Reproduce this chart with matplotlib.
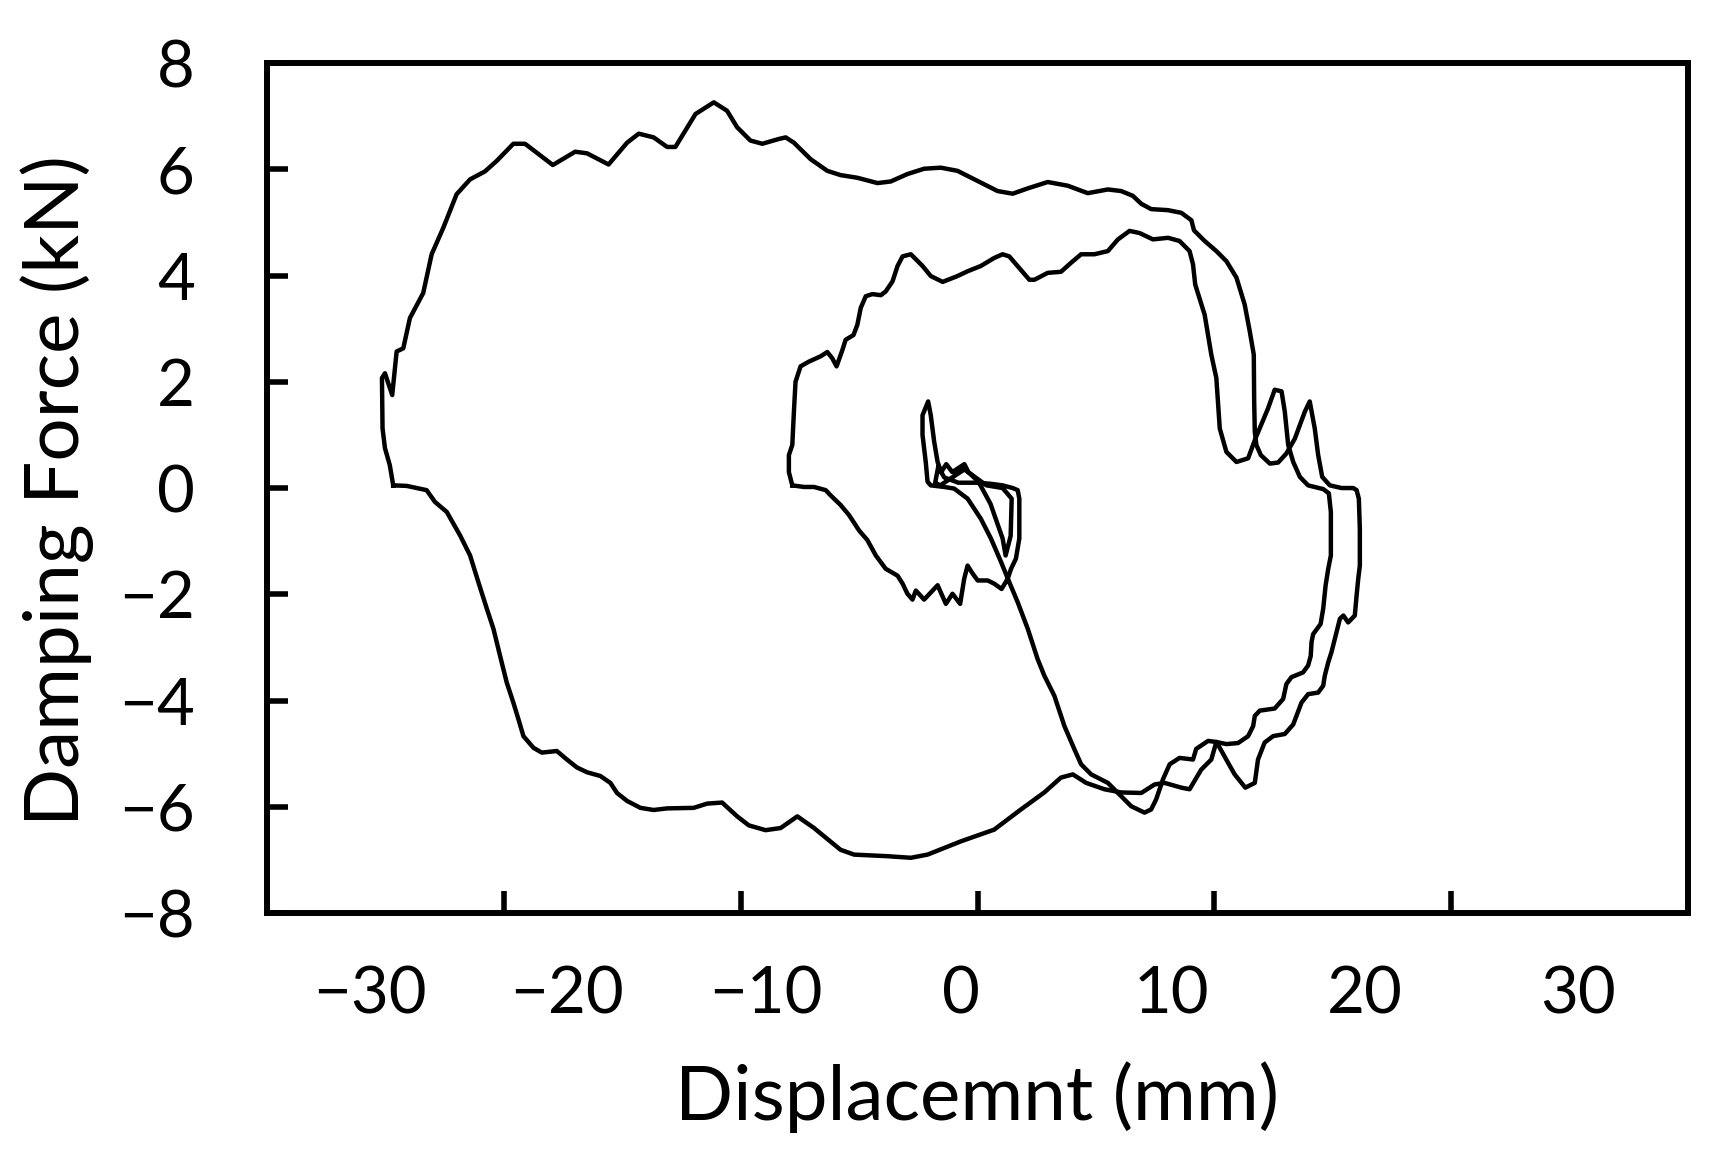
import numpy as np
import matplotlib
matplotlib.use("Agg")
import matplotlib.pyplot as plt

plt.rcParams['font.family'] = ['Lato', 'DejaVu Sans']

# ---------------- data (displacement mm, damping force kN) ----------------
outer_x = [-28.68, -28.85, -29.09, -29.21, -29.24, -29.09, -28.73, -28.51, -28.18, -27.85,
           -27.19, -26.77, -26.19, -25.53, -24.86, -24.12, -23.53, -22.71, -22.13, -21.54,
           -20.75, -19.64, -19.05, -17.98, -17.06, -16.48, -15.74, -15.07, -14.66, -13.66,
           -12.75, -12.09, -11.59, -10.93, -10.34, -9.52, -9.18, -8.77, -7.94, -7.11,
           -6.45, -5.62, -4.62, -3.96, -3.13, -2.30, -1.47, -0.64, 0.36, 1.35,
           2.10, 2.85, 3.84, 4.84, 5.83, 6.83, 7.49, 8.07, 8.49, 8.98,
           9.82, 10.48, 10.98, 11.11, 11.64, 12.22, 12.72, 13.22, 13.63, 13.88,
           14.08, 14.10, 14.13, 14.21, 14.43, 14.88, 15.29, 15.70, 16.12, 16.62,
           16.86, 17.11, 17.28, 17.48, 17.86, 18.44, 19.02, 19.19, 19.30, 19.35,
           19.35, 19.27, 19.19, 19.10, 18.77, 18.53, 18.36, 18.11, 17.94, 17.78,
           17.61, 17.53, 17.28, 16.78, 16.45, 16.04, 15.62, 15.04, 14.62, 14.29,
           14.13, 13.66, 13.13, 12.80, 12.39, 12.22, 11.97, 11.47, 10.89, 10.48,
           9.65, 9.15, 8.49, 7.49, 6.66, 5.75, 5.09, 4.50, 3.67, 2.51,
           1.18, -0.47, -2.13, -2.96, -4.12, -5.78, -6.45, -7.77, -8.60, -9.43,
           -10.18, -11.01, -11.59, -12.34, -13.08, -13.75, -15.07, -15.74, -16.40, -17.06,
           -17.56, -17.89, -18.39, -19.05, -19.55, -20.05, -20.55, -21.30, -21.71, -22.21,
           -22.46, -22.71, -23.04, -23.37, -23.70, -24.03, -24.45, -24.86, -25.36, -26.02,
           -26.61, -27.02, -28.01, -28.68]
outer_y = [0.05, 0.43, 0.75, 1.12, 2.07, 2.16, 1.75, 2.57, 2.63, 3.20,
           3.67, 4.40, 4.90, 5.53, 5.81, 5.96, 6.16, 6.48, 6.48, 6.31,
           6.08, 6.33, 6.30, 6.09, 6.50, 6.67, 6.60, 6.42, 6.42, 7.04,
           7.26, 7.10, 6.79, 6.54, 6.48, 6.57, 6.60, 6.50, 6.19, 5.97,
           5.89, 5.84, 5.74, 5.77, 5.91, 6.01, 6.03, 5.97, 5.78, 5.59,
           5.54, 5.64, 5.76, 5.69, 5.55, 5.62, 5.59, 5.50, 5.35, 5.25,
           5.23, 5.18, 5.04, 4.85, 4.65, 4.46, 4.27, 3.96, 3.45, 2.95,
           2.51, 1.63, 1.06, 0.81, 0.62, 0.46, 0.48, 0.65, 0.93, 1.44,
           1.63, 1.12, 0.62, 0.21, 0.05, 0.00, 0.00, -0.04, -0.20, -0.76,
           -1.46, -1.71, -2.02, -2.40, -2.53, -2.40, -2.46, -2.84, -3.09, -3.28,
           -3.53, -3.72, -3.85, -3.88, -4.04, -4.45, -4.63, -4.67, -4.79, -5.11,
           -5.55, -5.64, -5.39, -5.17, -4.89, -4.78, -5.11, -5.30, -5.67, -5.64,
           -5.55, -5.58, -5.74, -5.73, -5.67, -5.55, -5.39, -5.45, -5.73, -6.05,
           -6.43, -6.65, -6.90, -6.96, -6.93, -6.90, -6.81, -6.40, -6.18, -6.40,
           -6.44, -6.35, -6.18, -5.92, -5.94, -6.02, -6.03, -6.06, -6.02, -5.89,
           -5.74, -5.55, -5.42, -5.35, -5.26, -5.11, -4.95, -4.98, -4.89, -4.67,
           -4.35, -4.04, -3.66, -3.16, -2.65, -2.27, -1.77, -1.27, -0.89, -0.45,
           -0.26, -0.04, 0.04, 0.05]

inner_x = [-8.85, -9.02, -9.02, -8.85, -8.77, -8.69, -8.44, -8.02, -7.44, -7.11,
           -6.86, -6.65, -6.36, -6.20, -5.81, -5.62, -5.45, -5.20, -4.87, -4.45,
           -4.21, -3.87, -3.62, -3.37, -2.96, -2.38, -1.97, -1.38, -0.64, -0.14,
           0.52, 1.18, 1.60, 1.93, 2.43, 2.93, 3.18, 3.84, 4.50, 5.00,
           5.50, 6.16, 6.83, 7.33, 7.91, 8.40, 9.07, 9.82, 10.39, 10.89,
           11.06, 11.17, 11.64, 11.97, 12.22, 12.39, 12.72, 13.22, 13.80, 14.16,
           14.79, 15.12, 15.46, 15.62, 15.79, 16.04, 16.37, 16.78, 17.30, 17.53,
           17.81, 17.91, 17.91, 17.78, 17.65, 17.53, 17.40, 17.03, 16.95, 16.91,
           16.78, 16.53, 15.95, 15.70, 15.54, 15.12, 14.38, 14.13, 14.05, 13.80,
           13.30, 12.72, 12.22, 11.81, 11.22, 11.06, 10.39, 9.90, 9.57, 9.23,
           8.98, 8.65, 7.99, 7.33, 6.83, 6.00, 5.50, 5.17, 4.67, 4.17,
           3.67, 3.34, 2.85, 2.35, 1.93, 1.52, 1.02, 0.52, -0.14, -0.81,
           -1.30, -1.97, -2.13, -2.22, -2.38, -2.38, -2.10, -1.97, -1.80, -1.63,
           -1.45, -1.20, -0.90, -0.50, -0.30, -0.10, 0.40, 1.00, 1.60, 1.75,
           2.00, 2.05, 1.60, 0.80, -0.30, -0.90, -1.50, -1.75, -1.60, -1.30,
           -0.60, 0.30, 1.00, 1.60, 2.10, 2.35, 2.43, 2.43, 2.26, 2.02,
           1.85, 1.55, 1.18, 0.86, 0.36, 0.11, -0.14, -0.31, -0.51, -0.89,
           -1.22, -1.63, -2.30, -2.71, -2.88, -3.13, -3.37, -3.62, -4.21, -4.70,
           -5.12, -5.53, -6.03, -6.45, -6.94, -7.19, -7.77, -8.27, -8.85]
inner_y = [0.05, 0.30, 0.62, 0.81, 1.44, 2.00, 2.29, 2.38, 2.48, 2.56,
           2.44, 2.29, 2.60, 2.79, 2.88, 3.07, 3.39, 3.61, 3.65, 3.63,
           3.70, 3.89, 4.18, 4.36, 4.40, 4.18, 3.99, 3.88, 3.99, 4.08,
           4.18, 4.33, 4.40, 4.36, 4.14, 3.92, 3.92, 4.05, 4.07, 4.24,
           4.40, 4.40, 4.46, 4.68, 4.84, 4.80, 4.68, 4.71, 4.65, 4.46,
           4.21, 3.83, 3.26, 2.51, 2.07, 1.12, 0.68, 0.49, 0.56, 0.93,
           1.50, 1.85, 1.82, 1.44, 0.81, 0.49, 0.21, 0.05, 0.00, -0.02,
           -0.10, -0.45, -1.27, -1.52, -1.83, -2.27, -2.56, -2.75, -2.90, -3.16,
           -3.34, -3.47, -3.56, -3.69, -3.97, -4.15, -4.19, -4.29, -4.48, -4.67,
           -4.80, -4.82, -4.78, -4.76, -4.91, -5.11, -5.08, -5.20, -5.48, -5.86,
           -6.05, -6.11, -5.99, -5.74, -5.55, -5.39, -5.20, -4.92, -4.48, -3.91,
           -3.53, -3.22, -2.65, -2.15, -1.77, -1.39, -0.95, -0.58, -0.20, -0.01,
           0.02, 0.05, 0.12, 0.49, 1.00, 1.37, 1.63, 1.37, 0.87, 0.49,
           0.30, 0.45, 0.30, 0.40, 0.45, 0.30, 0.12, -0.30, -0.95, -1.27,
           -0.90, -0.20, 0.00, 0.05, 0.35, 0.20, 0.05, 0.10, 0.40, 0.20,
           0.10, 0.10, 0.08, 0.05, 0.00, -0.04, -0.20, -0.95, -1.33, -1.52,
           -1.71, -1.90, -1.80, -1.74, -1.74, -1.61, -1.46, -1.71, -2.18, -1.99,
           -2.18, -1.83, -2.10, -1.93, -2.10, -1.99, -1.80, -1.65, -1.52, -1.27,
           -0.98, -0.80, -0.51, -0.32, -0.14, -0.04, 0.02, 0.02, 0.05]

x_tick_values = [-30, -20, -10, 0, 10, 20, 30]
y_tick_values = [-8, -6, -4, -2, 0, 2, 4, 6, 8]

# ---------------- figure ----------------
fig = plt.figure(figsize=(17.25, 11.54), dpi=100)
ax = fig.add_axes([0.1548, 0.2088, 0.9786 - 0.1548, 0.9454 - 0.2088])

ax.plot(outer_x, outer_y, color='black', lw=3.2, solid_joinstyle='round')
ax.plot(inner_x, inner_y, color='black', lw=3.2, solid_joinstyle='round')

xmin, xmax = -34.95, 35.66
ax.set_xlim(xmin, xmax)
ax.set_ylim(-8, 8)

# tick labels (placed as in the original figure)
label_pos = [-29.86, -20.03, -10.16, -0.47, 10.01, 19.6, 30.18]
ax.set_xticks(label_pos)
ax.set_xticklabels([f"{v}".replace('-', '\u2212') for v in x_tick_values])
ax.set_xticks(np.linspace(xmin, xmax, 7)[1:-1], minor=True)
ax.tick_params(axis='x', which='major', length=0, pad=38, labelsize=47)
ax.tick_params(axis='x', which='minor', direction='in', length=16, width=4,
               labelbottom=False)

ax.set_yticks(y_tick_values)
ax.set_yticklabels([f"{v}".replace('-', '\u2212') for v in y_tick_values])
ax.tick_params(axis='y', which='major', direction='in', length=15, width=4,
               pad=52, labelsize=47)

for s in ax.spines.values():
    s.set_linewidth(4.3)
    s.set_color('black')

ax.set_xlabel('Displacemnt (mm)', fontsize=55)
ax.set_ylabel('Damping Force (kN)', fontsize=55)
ax.xaxis.label.set_verticalalignment('center')
ax.yaxis.label.set_verticalalignment('center')
ax.xaxis.set_label_coords(0.4995, -0.2164)
ax.yaxis.set_label_coords(-0.1475, 0.4975)

fig.savefig('out.png', dpi=100)
